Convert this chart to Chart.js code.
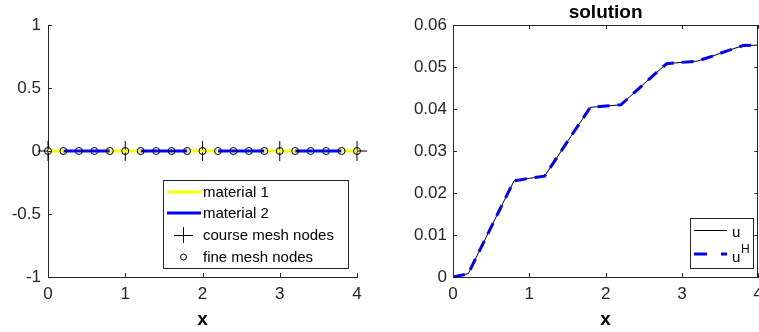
<!DOCTYPE html>
<html>
<head>
<meta charset="utf-8">
<script src="https://cdn.jsdelivr.net/npm/chart.js@4.4.1/dist/chart.umd.min.js"></script>
<style>
  html, body { margin: 0; padding: 0; background: #fff; overflow: hidden; }
  .panel { position: absolute; top: 0; height: 332px; }
  #izq { left: 0; width: 380px; }
  #der { left: 380px; width: 390px; }
</style>
</head>
<body>
<div class="panel" id="izq"><canvas id="grafico1" width="380" height="332"></canvas></div>
<div class="panel" id="der"><canvas id="grafico2" width="390" height="332"></canvas></div>
<script>
const familia = '"Liberation Sans", Arial, Helvetica, sans-serif';
const grisEje = '#262626';

// malla fina (21 nodos) y malla gruesa
const nodosFinos = [0, 0.2, 0.4, 0.6, 0.8, 1, 1.2, 1.4, 1.6, 1.8, 2, 2.2, 2.4, 2.6, 2.8, 3, 3.2, 3.4, 3.6, 3.8, 4];
const nodosGruesos = [0, 1, 2, 3, 4];
// material de cada elemento fino
const materialElemento = [1, 2, 2, 2, 1, 1, 2, 2, 2, 1, 1, 2, 2, 2, 1, 1, 2, 2, 2, 1];
const etiquetasMaterial = ['material 1', 'material 2'];
const coloresMaterial = ['#ffff00', '#0000ff'];

// solucion fina u y solucion gruesa uH en los nodos finos
const solucionU = [0, 0.0008, 0.0082, 0.0156, 0.0229, 0.0235, 0.0240, 0.0295, 0.0350, 0.0404,
                   0.0407, 0.0410, 0.0443, 0.0476, 0.0508, 0.0511, 0.0514, 0.0526, 0.0539, 0.0551, 0.0552];
const solucionUH = [0, 0.0008, 0.0082, 0.0156, 0.0229, 0.0235, 0.0240, 0.0295, 0.0350, 0.0404,
                    0.0407, 0.0410, 0.0443, 0.0476, 0.0508, 0.0511, 0.0514, 0.0526, 0.0539, 0.0551, 0.0552];

const ticksX = [0, 1, 2, 3, 4];
const ticksMalla = [-1, -0.5, 0, 0.5, 1];
const ticksSolucion = [0, 0.01, 0.02, 0.03, 0.04, 0.05, 0.06];

const fuenteTicks = { family: familia, size: 17 };
const fuenteTitulo = { family: familia, size: 19, weight: 'bold' };

// un segmento por elemento, cortado con null
function segmentosMaterial(m) {
    const pts = [];
    materialElemento.forEach((mat, e) => {
        if (mat !== m) return;
        pts.push({ x: nodosFinos[e], y: 0 }, { x: nodosFinos[e + 1], y: 0 }, { x: nodosFinos[e + 1], y: null });
    });
    return pts;
}

function linea(ctx, x1, y1, x2, y2) {
    ctx.beginPath();
    ctx.moveTo(x1, y1);
    ctx.lineTo(x2, y2);
    ctx.stroke();
}

// ticks hacia adentro (estilo matlab), con caja opcional
const ticksInternos = {
    id: 'ticksInternos',
    afterDraw(chart, args, opts) {
        const { ctx, chartArea: a, scales } = chart;
        const L = 4;
        ctx.save();
        ctx.strokeStyle = grisEje;
        ctx.lineWidth = 1;
        scales.x.ticks.forEach(t => {
            const px = Math.round(scales.x.getPixelForValue(t.value)) + 0.5;
            linea(ctx, px, a.bottom, px, a.bottom - L);
            if (opts.caja) linea(ctx, px, a.top, px, a.top + L);
        });
        scales.y.ticks.forEach(t => {
            const py = Math.round(scales.y.getPixelForValue(t.value)) + 0.5;
            linea(ctx, a.left, py, a.left + L, py);
            if (opts.caja) linea(ctx, a.right, py, a.right - L, py);
        });
        if (opts.caja) {
            const t = Math.round(a.top) + 0.5, r = Math.round(a.right) - 0.5;
            linea(ctx, a.left, t, a.right, t);
            linea(ctx, r, a.top, r, a.bottom);
        }
        ctx.restore();
    }
};

const leyendaMalla = {
    id: 'leyendaMalla',
    afterDraw(chart) {
        const ctx = chart.ctx;
        const filas = [192, 213, 235, 257];
        ctx.save();
        ctx.fillStyle = '#fff';
        ctx.fillRect(163.5, 180.5, 185, 88);
        ctx.strokeStyle = grisEje;
        ctx.lineWidth = 1;
        ctx.strokeRect(163.5, 180.5, 185, 88);
        ctx.font = `15px ${familia}`;
        ctx.textBaseline = 'middle';
        ctx.fillStyle = '#000';
        coloresMaterial.forEach((c, i) => {
            ctx.strokeStyle = c;
            ctx.lineWidth = 3;
            linea(ctx, 167, filas[i], 201, filas[i]);
            ctx.fillText(etiquetasMaterial[i], 203, filas[i] + 1);
        });
        ctx.strokeStyle = '#000';
        ctx.lineWidth = 1;
        linea(ctx, 174, filas[2] + 0.5, 193, filas[2] + 0.5);
        linea(ctx, 183.5, filas[2] - 8, 183.5, filas[2] + 8);
        ctx.fillText('course mesh nodes', 203, filas[2] + 1);
        ctx.beginPath();
        ctx.arc(183.5, filas[3], 3, 0, Math.PI * 2);
        ctx.stroke();
        ctx.fillText('fine mesh nodes', 203, filas[3] + 1);
        ctx.restore();
    }
};

const leyendaSolucion = {
    id: 'leyendaSolucion',
    afterDraw(chart) {
        const ctx = chart.ctx;
        const x0 = 310.5, y0 = 218.5;
        ctx.save();
        ctx.fillStyle = '#fff';
        ctx.fillRect(x0, y0, 63, 50);
        ctx.strokeStyle = grisEje;
        ctx.lineWidth = 1;
        ctx.strokeRect(x0, y0, 63, 50);
        ctx.strokeStyle = '#000';
        linea(ctx, 314, 230.5, 347, 230.5);
        ctx.strokeStyle = '#0000ff';
        ctx.lineWidth = 3;
        ctx.setLineDash([13, 14]);
        linea(ctx, 314, 254, 347, 254);
        ctx.setLineDash([]);
        ctx.fillStyle = '#000';
        ctx.textBaseline = 'middle';
        ctx.font = `15px ${familia}`;
        ctx.fillText('u', 352, 233);
        ctx.fillText('u', 352, 258);
        ctx.font = `12px ${familia}`;
        ctx.fillText('H', 361, 250);
        ctx.restore();
    }
};

function escalaX() {
    return {
        type: 'linear', min: 0, max: 4,
        afterBuildTicks: s => { s.ticks = ticksX.map(v => ({ value: v })); },
        afterFit: s => { s.height = 55; },
        grid: { display: false, drawTicks: false },
        border: { color: grisEje, width: 1 },
        ticks: { font: fuenteTicks, color: grisEje, padding: 7, maxRotation: 0, callback: v => String(v) },
        title: { display: true, text: 'x', font: fuenteTitulo, color: '#000', padding: { top: 0, bottom: 1 } }
    };
}

const Grafico = document.getElementById('grafico1').getContext('2d');
const Grafico2 = document.getElementById('grafico2').getContext('2d');

window.graficaMalla = new Chart(Grafico, {
    type: 'scatter',
    data: {
        datasets: [
            {
                label: 'fine mesh nodes',
                data: nodosFinos.map(x => ({ x: x, y: 0 })),
                pointStyle: 'circle', pointRadius: 3.5, pointBorderWidth: 1,
                pointBorderColor: '#000', pointBackgroundColor: 'rgba(0,0,0,0)',
                order: 0, clip: false
            },
            {
                label: etiquetasMaterial[0],
                data: segmentosMaterial(1),
                showLine: true, borderColor: coloresMaterial[0], borderWidth: 3,
                pointRadius: 0, spanGaps: false, order: 1, clip: false
            },
            {
                label: etiquetasMaterial[1],
                data: segmentosMaterial(2),
                showLine: true, borderColor: coloresMaterial[1], borderWidth: 3,
                pointRadius: 0, spanGaps: false, order: 1, clip: false
            },
            {
                label: 'course mesh nodes',
                data: nodosGruesos.map(x => ({ x: x, y: 0 })),
                pointStyle: 'cross', pointRadius: 10, pointBorderWidth: 1,
                pointBorderColor: '#000', order: 2, clip: false
            }
        ]
    },
    options: {
        responsive: false,
        animation: false,
        layout: { padding: { top: 25, right: 23, bottom: 0, left: 0 } },
        plugins: { legend: { display: false }, tooltip: { enabled: false }, ticksInternos: { caja: false } },
        scales: {
            x: escalaX(),
            y: {
                type: 'linear', min: -1, max: 1,
                afterBuildTicks: s => { s.ticks = ticksMalla.map(v => ({ value: v })); },
                afterFit: s => { s.width = 48; },
                grid: { display: false, drawTicks: false },
                border: { color: grisEje, width: 1 },
                ticks: { font: fuenteTicks, color: grisEje, padding: 7, callback: v => String(v) }
            }
        }
    },
    plugins: [ticksInternos, leyendaMalla]
});

window.graficaSolucion = new Chart(Grafico2, {
    type: 'scatter',
    data: {
        datasets: [
            {
                label: 'uH',
                data: nodosFinos.map((x, i) => ({ x: x, y: solucionUH[i] })),
                showLine: true, borderColor: '#0000ff', borderWidth: 3, borderDash: [12, 8],
                pointRadius: 0, order: 0
            },
            {
                label: 'u',
                data: nodosFinos.map((x, i) => ({ x: x, y: solucionU[i] })),
                showLine: true, borderColor: '#000', borderWidth: 1,
                pointRadius: 0, order: 1
            }
        ]
    },
    options: {
        responsive: false,
        animation: false,
        layout: { padding: { top: 0, right: 9, bottom: 0, left: 0 } },
        plugins: {
            legend: { display: false },
            tooltip: { enabled: false },
            title: {
                display: true, text: 'solution', fullSize: false,
                font: fuenteTitulo, color: '#000', padding: { top: 1, bottom: 1.2 }
            },
            ticksInternos: { caja: true }
        },
        scales: {
            x: escalaX(),
            y: {
                type: 'linear', min: 0, max: 0.06,
                afterBuildTicks: s => { s.ticks = ticksSolucion.map(v => ({ value: v })); },
                afterFit: s => { s.width = 73; },
                grid: { display: false, drawTicks: false },
                border: { color: grisEje, width: 1 },
                ticks: { font: fuenteTicks, color: grisEje, padding: 6, callback: v => String(+v.toFixed(2)) }
            }
        }
    },
    plugins: [ticksInternos, leyendaSolucion]
});
</script>
</body>
</html>
